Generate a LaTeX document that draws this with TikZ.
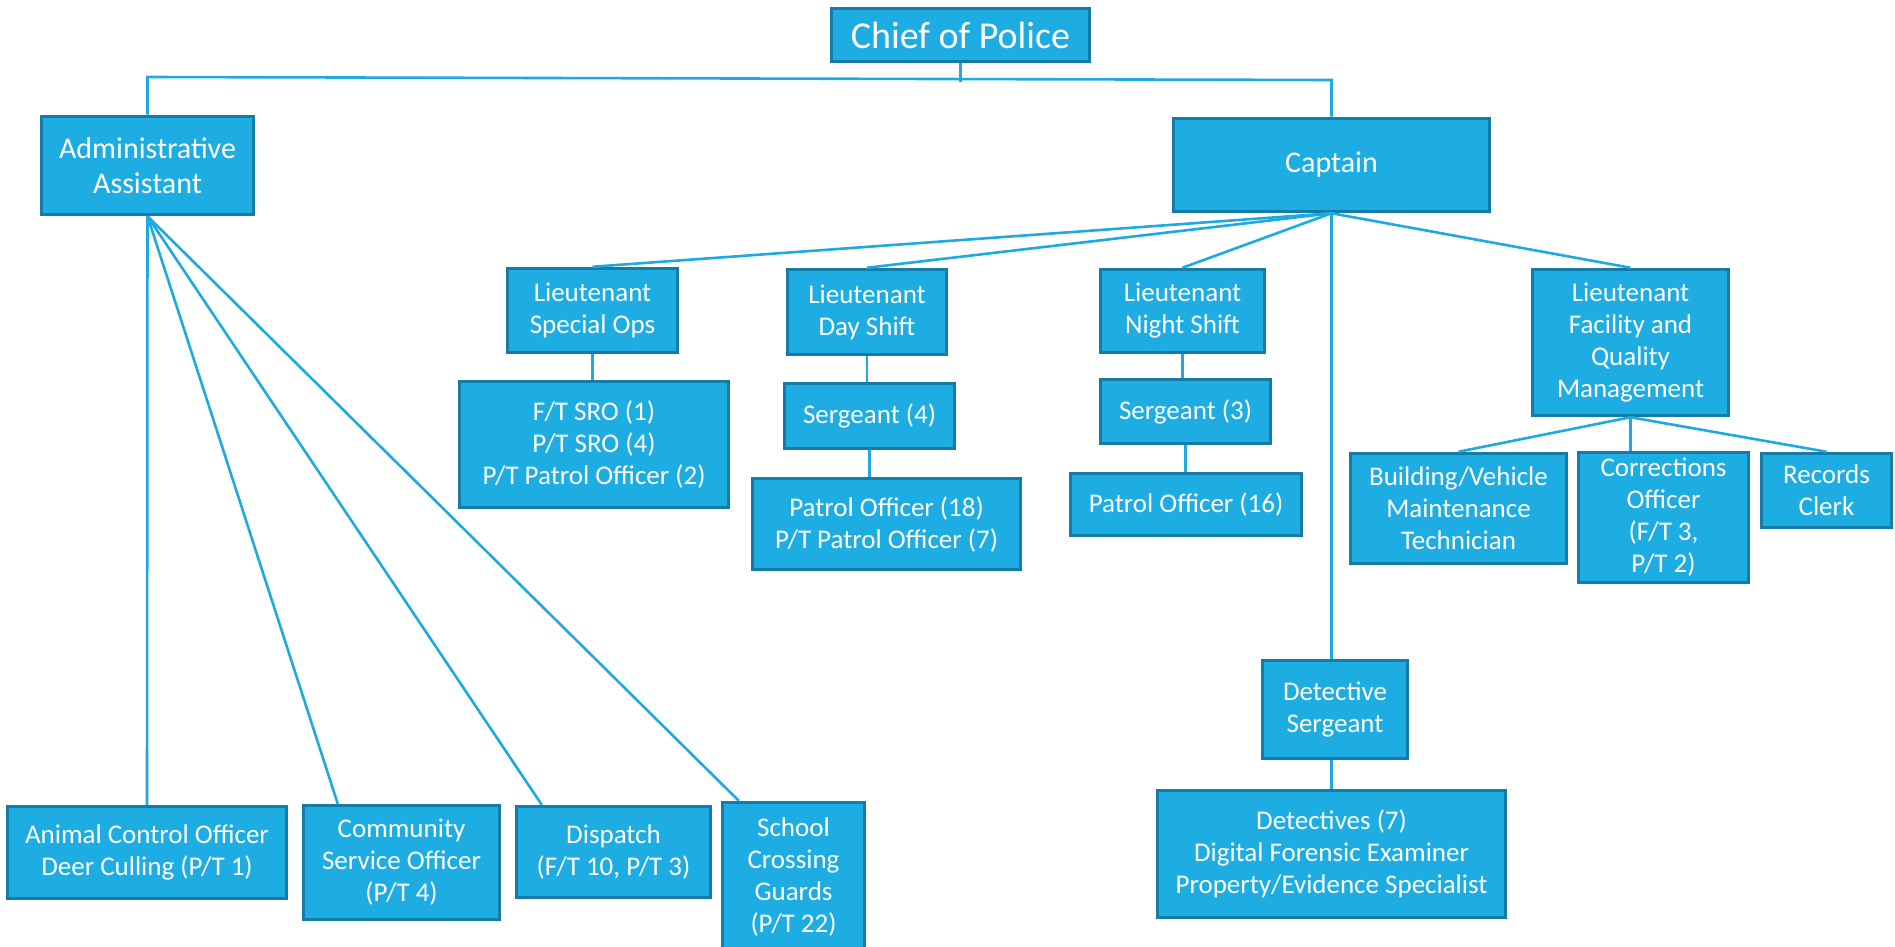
\documentclass[tikz,border=0pt]{standalone}
\usepackage{fontspec}
\setmainfont{Carlito}
\definecolor{boxfill}{RGB}{30,173,227}
\definecolor{boxline}{RGB}{22,124,166}
\definecolor{wire}{RGB}{30,170,225}
\begin{document}
\begin{tikzpicture}[x=1pt,y=-1pt,
 box/.style={draw=boxline, fill=boxfill, line width=3.5pt, text=white, align=center, inner sep=0pt, font=\fontsize{27}{32}\selectfont},
 bigbox/.style={box, font=\fontsize{30}{35}\selectfont},
 wireline/.style={draw=wire, line width=2.6pt}]
\useasboundingbox (0,0) rectangle (1895,947);
\fill[white] (0,0) rectangle (1895,947);

\node[box, font=\fontsize{38}{45}\selectfont, minimum width=258, minimum height=53] (chief) at (960.5,35) {Chief of Police};
\node[bigbox, minimum width=212, minimum height=98] (admin) at (147.5,165.5) {Administrative\\Assistant};
\node[bigbox, minimum width=316, minimum height=93] (captain) at (1331.5,165) {Captain};
\node[box, minimum width=170, minimum height=84] (ltso) at (592.5,310.5) {Lieutenant\\Special Ops};
\node[box, minimum width=269, minimum height=126] (ftsro) at (594,444.5) {F/T SRO (1)\\P/T SRO (4)\\P/T Patrol Officer (2)};
\node[box, minimum width=159, minimum height=85] (ltds) at (867,312) {Lieutenant\\Day Shift};
\node[box, minimum width=170, minimum height=65] (sgtfour) at (869.5,416) {Sergeant (4)};
\node[box, minimum width=268, minimum height=91] (poeighteen) at (886.5,524) {Patrol Officer (18)\\P/T Patrol Officer (7)};
\node[box, minimum width=164, minimum height=83] (ltns) at (1182.5,311) {Lieutenant\\Night Shift};
\node[box, minimum width=170, minimum height=64] (sgtthree) at (1185.5,411.5) {Sergeant (3)};
\node[box, minimum width=231, minimum height=62] (posixteen) at (1186,504.5) {Patrol Officer (16)};
\node[box, minimum width=196, minimum height=146] (ltfq) at (1630.5,342.5) {Lieutenant\\Facility and\\Quality\\Management};
\node[box, minimum width=216, minimum height=110] (bvm) at (1458.5,508.5) {Building/Vehicle\\Maintenance\\Technician};
\node[box, minimum width=170, minimum height=130] (corr) at (1663.5,517.5) {Corrections\\Officer\\(F/T 3,\\P/T 2)};
\node[box, minimum width=130, minimum height=74] (rec) at (1826.5,490.5) {Records\\Clerk};
\node[box, minimum width=145, minimum height=98] (detsgt) at (1335,709.5) {Detective\\Sergeant};
\node[box, minimum width=348, minimum height=127] (dets) at (1331.5,854) {Detectives (7)\\Digital Forensic Examiner\\Property/Evidence Specialist};
\node[box, minimum width=279, minimum height=92] (acl) at (147,852.5) {Animal Control Officer\\Deer Culling (P/T 1)};
\node[box, minimum width=196, minimum height=114] (cso) at (401.5,862.5) {Community\\Service Officer\\(P/T 4)};
\node[box, minimum width=194, minimum height=91] (disp) at (613.5,852) {Dispatch\\(F/T 10, P/T 3)};
\node[box, minimum width=142, minimum height=149] (scg) at (793.5,877) {School\\Crossing\\Guards\\(P/T 22)};

\coordinate (hl) at (147.5,77);
\coordinate (hr) at (1331.5,80);
\coordinate (cj) at (960.5,82);
\draw[wireline] (admin.north) -- (hl) -- (hr) -- (captain.north);
\draw[wireline] (chief.south) -- (cj);
\foreach \n in {ltso,ltds,ltns,ltfq} \draw[wireline] (captain.south) -- (\n.north);
\draw[wireline] (captain.south) -- (captain.south |- detsgt.north);
\draw[wireline] (ltso.south) -- (ltso.south |- ftsro.north);
\draw[wireline] (ltds.south) -- (ltds.south |- sgtfour.north);
\draw[wireline] (sgtfour.south) -- (sgtfour.south |- poeighteen.north);
\draw[wireline] (ltns.south) -- (ltns.south |- sgtthree.north);
\draw[wireline] (sgtthree.south) -- (sgtthree.south |- posixteen.north);
\draw[wireline] (ltfq.south) -- (bvm.north);
\draw[wireline] (ltfq.south) -- (ltfq.south |- corr.north);
\draw[wireline] (ltfq.south) -- (rec.north);
\draw[wireline] (dets.north) -- (dets.north |- detsgt.south);
\draw[wireline] (admin.south) -- (acl.north);
\draw[wireline] (admin.south) -- ([xshift=36pt]cso.north west);
\draw[wireline] (admin.south) -- ([xshift=27pt]disp.north west);
\draw[wireline] (admin.south) -- ([xshift=18pt]scg.north west);
\end{tikzpicture}
\end{document}
